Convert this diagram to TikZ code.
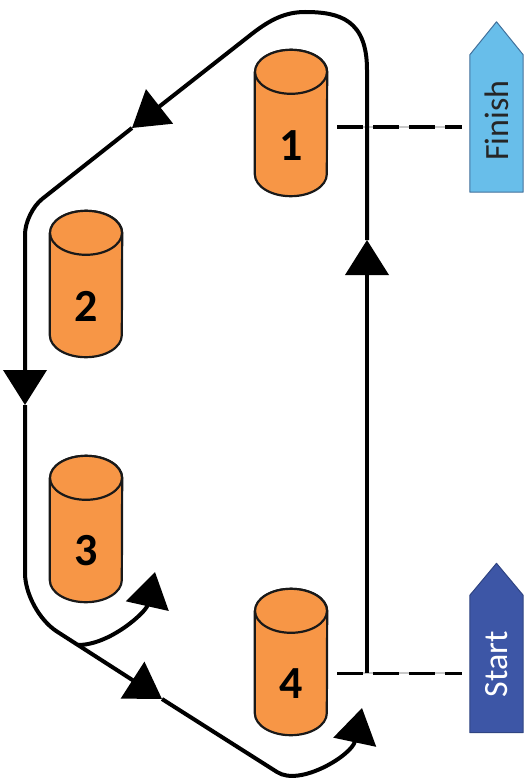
\documentclass[tikz,border=0pt]{standalone}
\usepackage{fontspec}
\newfontfamily\calib{Carlito}
\usetikzlibrary{arrows.meta}
\definecolor{cylorange}{RGB}{247,150,70}
\definecolor{finblue}{RGB}{104,190,234}
\definecolor{finedge}{RGB}{65,113,156}
\definecolor{startblue}{RGB}{61,86,166}
\definecolor{startedge}{RGB}{47,68,130}
\definecolor{gapgray}{RGB}{200,200,200}
\begin{document}
\begin{tikzpicture}[x=1pt,y=-1pt,
  cylbox/.style={minimum width=72pt, minimum height=146pt, inner sep=0pt},
  cylbody/.style={fill=cylorange, draw=black!90, line width=2.2pt, line join=round},
  numlabel/.style={font=\calib\bfseries\fontsize{46}{46}\selectfont, inner sep=0pt},
  flagbox/.style={minimum width=53pt, minimum height=137pt, inner sep=0pt},
  flagtext/.style={rotate=90, font=\calib\fontsize{34}{34}\selectfont, inner sep=0pt},
  route/.style={line width=4pt, draw=black, -{Triangle[length=35pt,width=43pt]}},
  gapline/.style={draw=gapgray, line width=2pt},
  dashline/.style={draw=black, line width=3pt, dash pattern=on 26pt off 10pt}]
\useasboundingbox (0,0) rectangle (524,781);

% cylinders
\node[cylbox] (c1) at (291,123) {};
\node[cylbox] (c2) at (86,284) {};
\node[cylbox] (c3) at (86,529) {};
\node[cylbox] (c4) at (291,662) {};
\foreach \c in {c1,c2,c3,c4}{
  \path[cylbody] ([yshift=-22pt]\c.north west) -- ([yshift=22pt]\c.south west)
    arc[start angle=180,end angle=360,x radius=36pt,y radius=22pt]
    -- ([yshift=-22pt]\c.north east)
    arc[start angle=0,end angle=180,x radius=36pt,y radius=22pt] -- cycle;
  \draw[cylbody] ([yshift=-22pt]\c.north) ellipse[x radius=36pt,y radius=22pt];
}
\node[numlabel] (l1) at ([yshift=-23pt]c1.center) {1};
\node[numlabel] (l2) at ([yshift=-22pt]c2.center) {2};
\node[numlabel] (l3) at ([yshift=-22pt]c3.center) {3};
\node[numlabel] (l4) at ([yshift=-22pt]c4.center) {4};

% flags
\node[flagbox] (fin) at (496.5,123.5) {};
\node[flagbox] (sta) at (496.5,664) {};
\filldraw[fill=finblue, draw=finedge, line width=1pt, line join=round]
  (fin.south west) -- (fin.north west) -- ([yshift=33pt]fin.north) -- (fin.north east) -- (fin.south east) -- cycle;
\filldraw[fill=startblue, draw=startedge, line width=1pt, line join=round]
  (sta.south west) -- (sta.north west) -- ([yshift=32pt]sta.north) -- (sta.north east) -- (sta.south east) -- cycle;
\node[flagtext, text=black!85] (ft) at ([yshift=3pt]fin.center) {Finish};
\node[flagtext, text=white] (st) at ([yshift=0pt]sta.center) {Start};

% dashed connectors
\coordinate (d1) at ([yshift=-4pt]c1.east);
\coordinate (d4) at ([yshift=-11pt]c4.east);
\foreach \d/\f in {d1/fin,d4/sta}{
  \draw[gapline, shorten <=10pt, shorten >=8pt] (\d) -- (\f.west |- \d);
  \draw[dashline, shorten <=10pt, shorten >=8pt] (\d) -- (\f.west |- \d);
}

% route
\coordinate (p0) at (367,673);
\coordinate (a1) at (367,240);
\coordinate (q1) at (367,70);
\coordinate (q2) at (305,12);
\coordinate (q3) at (253,33);
\coordinate (a2) at (132,128);
\coordinate (k1) at (25,212.5);
\coordinate (a3) at (25,405);
\coordinate (k2) at (25,611);
\coordinate (a4) at (162,699);
\coordinate (q4) at (277,772);
\coordinate (a5) at (362,708);
\coordinate (br) at (78,645);
\coordinate (a6) at (155,572);

\draw[route] (p0) -- (a1);
\draw[route] (a1) -- (q1) .. controls (367,20) and (340,12) .. (q2)
  .. controls (285,12) and (270,20) .. (q3) -- (a2);
\draw[route, rounded corners=22pt] (a2) -- (k1) -- (a3);
\draw[route, rounded corners=38pt] (a3) -- (k2) -- (a4);
\draw[route] (a4) -- (q4) .. controls (300,787) and (352,755) .. (a5);
\draw[route] (br) .. controls (110,645) and (146,612) .. (a6);
\end{tikzpicture}
\end{document}
